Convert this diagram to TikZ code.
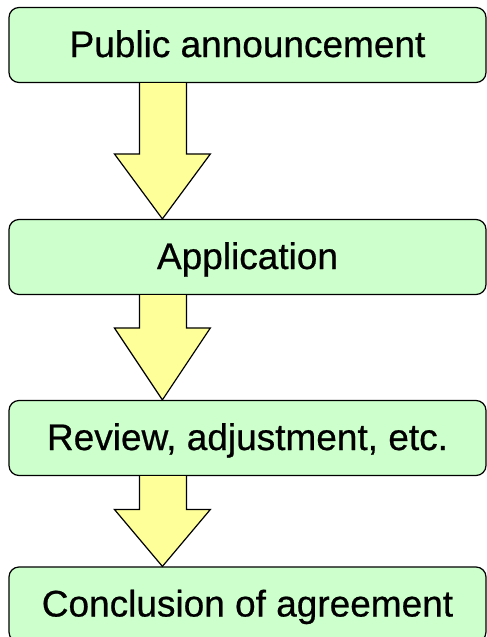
\documentclass[tikz,border=0pt]{standalone}
\usepackage{fontspec}
\setmainfont{Liberation Sans}
\newfontfamily\stagefont{Liberation Sans}[FakeBold=0.6]
\usetikzlibrary{calc}
\definecolor{boxgreen}{RGB}{204,255,204}
\definecolor{arrowyellow}{RGB}{255,255,153}
\tikzset{
  stagebox/.style={draw, line width=1.2pt, fill=boxgreen, rounded corners=10pt,
    minimum width=477pt, minimum height=75pt, inner sep=0pt,
    text height=24pt, text depth=0pt,
    font=\stagefont\fontsize{37}{40}\selectfont},
  blockarrow/.style={draw, line width=1.2pt, fill=arrowyellow, line join=miter}
}
\begin{document}
\begin{tikzpicture}[x=1pt,y=1pt]
\useasboundingbox (0,0) rectangle (487,-637);
\node [stagebox] (pub) at (247.5,-45) {Public announcement};
\node [stagebox] (app) at (247.5,-257) {Application};
\node [stagebox] (rev) at (247.5,-438) {Review, adjustment, etc.};
\node [stagebox] (con) at (247.5,-604.5) {Conclusion of agreement};
% block arrows between the stages
\foreach \a/\b/\h in {pub/app/65,app/rev/72,rev/con/57}
  \draw [blockarrow] ($(\a.south west)+(131,0)$) -- ($(\b.north west)+(131,\h)$)
    -- ($(\b.north west)+(106,\h)$) -- ($(\b.north west)+(154,0)$)
    -- ($(\b.north west)+(202,\h)$) -- ($(\b.north west)+(178,\h)$)
    -- ($(\a.south west)+(178,0)$);
\end{tikzpicture}
\end{document}
